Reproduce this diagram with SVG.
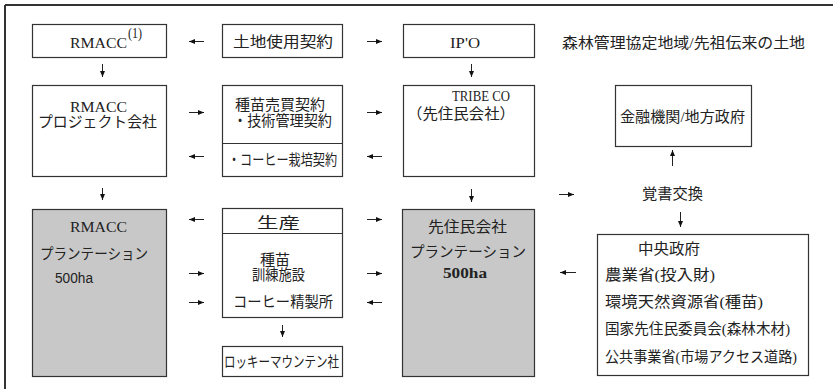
<svg xmlns="http://www.w3.org/2000/svg" width="833" height="389" viewBox="0 0 833 389">
<style>
.bx{fill:#fff;stroke:#333;stroke-width:1.2}
.gy{fill:#c8c8c8;stroke:#333;stroke-width:1.2}
.t{font-family:"Liberation Serif","Noto Sans CJK JP",serif;font-size:15px;fill:#222}
.s{font-family:"Liberation Sans",Arial,sans-serif;font-size:14px;fill:#222}
.ar{stroke:#222;stroke-width:1;fill:none;marker-end:url(#ah)}
</style>
<defs>
<marker id="ah" markerUnits="userSpaceOnUse" markerWidth="7" markerHeight="6" refX="6" refY="3" orient="auto">
<path d="M0,0.5 L6,3 L0,5.5 z" fill="#111"/>
</marker>
</defs>
<rect width="833" height="389" fill="#fff"/>
<g id="frame">
<line x1="5" y1="5" x2="833" y2="5" stroke="#333" stroke-width="2"/>
<line x1="5" y1="5" x2="5" y2="389" stroke="#333" stroke-width="2"/>
</g>

<g id="rmacc">
<rect class="bx" x="32.5" y="24.5" width="134" height="33"/>
<text class="t" x="70" y="48" font-size="16.5" textLength="57" lengthAdjust="spacingAndGlyphs">RMACC</text>
<text class="t" x="128" y="38" font-size="10" textLength="14" lengthAdjust="spacingAndGlyphs">(1)</text>
</g>
<g id="land">
<rect class="bx" x="222.5" y="24.5" width="120" height="33"/>
<text class="t" x="233" y="47" font-size="16" textLength="100" lengthAdjust="spacingAndGlyphs">土地使用契約</text>
</g>
<g id="ipo">
<rect class="bx" x="403.5" y="24.5" width="131" height="33"/>
<text class="t" x="450" y="48" font-size="16" textLength="30" lengthAdjust="spacingAndGlyphs">IP'O</text>
</g>
<g id="area">
<text class="t" x="562" y="48" font-size="15.5" textLength="243" lengthAdjust="spacingAndGlyphs">森林管理協定地域/先祖伝来の土地</text>
</g>

<g id="rmacc-project">
<rect class="bx" x="32.5" y="85.5" width="134" height="91"/>
<text class="t" x="70" y="112" font-size="16.5" textLength="57" lengthAdjust="spacingAndGlyphs">RMACC</text>
<text class="t" x="38" y="127" textLength="119" lengthAdjust="spacingAndGlyphs">プロジェクト会社</text>
</g>
<g id="contracts">
<rect class="bx" x="222.5" y="85.5" width="120" height="91"/>
<line x1="222.5" y1="143.5" x2="342.5" y2="143.5" stroke="#333" stroke-width="1.2"/>
<text class="t" x="235" y="110" textLength="90" lengthAdjust="spacingAndGlyphs">種苗売買契約</text>
<text class="t" x="233" y="126" font-size="14.5" textLength="99" lengthAdjust="spacingAndGlyphs">・技術管理契約</text>
<text class="t" x="228" y="165" font-size="12.5" textLength="109" lengthAdjust="spacingAndGlyphs">・コーヒー栽培契約</text>
</g>
<g id="tribe">
<rect class="bx" x="403.5" y="85.5" width="131" height="91"/>
<text class="t" x="452" y="101" font-size="16" textLength="58" lengthAdjust="spacingAndGlyphs">TRIBE CO</text>
<text class="t" x="407" y="119" textLength="108" lengthAdjust="spacingAndGlyphs">（先住民会社）</text>
</g>
<g id="finance">
<rect class="bx" x="615.5" y="85.5" width="136" height="61"/>
<text class="t" x="620" y="122" textLength="125" lengthAdjust="spacingAndGlyphs">金融機関/地方政府</text>
</g>
<g id="memo">
<text class="t" x="642" y="199" textLength="61" lengthAdjust="spacingAndGlyphs">覚書交換</text>
</g>

<g id="rmacc-plantation">
<rect class="gy" x="32.5" y="209.5" width="134" height="167"/>
<text class="t" x="70" y="232" font-size="16.5" textLength="57" lengthAdjust="spacingAndGlyphs">RMACC</text>
<text class="t" x="40" y="259" font-size="14" textLength="108" lengthAdjust="spacingAndGlyphs">プランテーション</text>
<text class="s" x="55" y="283" textLength="38" lengthAdjust="spacingAndGlyphs">500ha</text>
</g>
<g id="production">
<rect class="bx" x="222.5" y="208.5" width="120" height="109"/>
<line x1="222.5" y1="233.5" x2="342.5" y2="233.5" stroke="#333" stroke-width="1.2"/>
<text class="t" x="257" y="228" font-size="15.5" textLength="43" lengthAdjust="spacingAndGlyphs">生産</text>
<text class="t" x="260" y="265" textLength="30" lengthAdjust="spacingAndGlyphs">種苗</text>
<text class="t" x="252" y="280" font-size="14" textLength="53" lengthAdjust="spacingAndGlyphs">訓練施設</text>
<text class="t" x="233" y="307" font-size="14.5" textLength="100" lengthAdjust="spacingAndGlyphs">コーヒー精製所</text>
</g>
<g id="rocky">
<rect class="bx" x="222.5" y="346.5" width="120" height="30"/>
<text class="t" x="224" y="367" font-size="12.5" textLength="115" lengthAdjust="spacingAndGlyphs">ロッキーマウンテン社</text>
</g>
<g id="tribe-plantation">
<rect class="gy" x="402.5" y="209.5" width="132" height="167"/>
<text class="t" x="428" y="232" font-size="15.5" textLength="79" lengthAdjust="spacingAndGlyphs">先住民会社</text>
<text class="t" x="410" y="257" font-size="14.5" textLength="116" lengthAdjust="spacingAndGlyphs">プランテーション</text>
<text class="t" x="443" y="278" font-size="16" font-weight="bold" textLength="44" lengthAdjust="spacingAndGlyphs">500ha</text>
</g>
<g id="central-gov">
<rect class="bx" x="597.5" y="234.5" width="211" height="141"/>
<text class="t" x="638" y="254" font-size="15.5" textLength="62" lengthAdjust="spacingAndGlyphs">中央政府</text>
<text class="t" x="605" y="280" textLength="110" lengthAdjust="spacingAndGlyphs">農業省(投入財)</text>
<text class="t" x="605" y="307" textLength="158" lengthAdjust="spacingAndGlyphs">環境天然資源省(種苗)</text>
<text class="t" x="605" y="334" textLength="185" lengthAdjust="spacingAndGlyphs">国家先住民委員会(森林木材)</text>
<text class="t" x="605" y="362" textLength="192" lengthAdjust="spacingAndGlyphs">公共事業省(市場アクセス道路)</text>
</g>

<g id="connectors">
<line class="ar" x1="204" y1="41.5" x2="189" y2="41.5"/>
<line class="ar" x1="367" y1="41.5" x2="382" y2="41.5"/>
<line class="ar" x1="189" y1="112.5" x2="204" y2="112.5"/>
<line class="ar" x1="367" y1="112.5" x2="382" y2="112.5"/>
<line class="ar" x1="204" y1="156.5" x2="189" y2="156.5"/>
<line class="ar" x1="382" y1="156.5" x2="367" y2="156.5"/>
<line class="ar" x1="204" y1="219.5" x2="189" y2="219.5"/>
<line class="ar" x1="367" y1="219.5" x2="382" y2="219.5"/>
<line class="ar" x1="189" y1="273.5" x2="204" y2="273.5"/>
<line class="ar" x1="367" y1="273.5" x2="382" y2="273.5"/>
<line class="ar" x1="189" y1="302.5" x2="204" y2="302.5"/>
<line class="ar" x1="382" y1="302.5" x2="367" y2="302.5"/>
<line class="ar" x1="559" y1="194.5" x2="574" y2="194.5"/>
<line class="ar" x1="576" y1="272.5" x2="560" y2="272.5"/>
<line class="ar" x1="102.5" y1="64" x2="102.5" y2="77"/>
<line class="ar" x1="471.5" y1="64" x2="471.5" y2="77"/>
<line class="ar" x1="102.5" y1="188" x2="102.5" y2="200"/>
<line class="ar" x1="471.5" y1="189" x2="471.5" y2="202"/>
<line class="ar" x1="672.5" y1="166" x2="672.5" y2="150"/>
<line class="ar" x1="680.5" y1="212" x2="680.5" y2="227"/>
<line class="ar" x1="282.5" y1="325" x2="282.5" y2="337"/>
</g>
</svg>
